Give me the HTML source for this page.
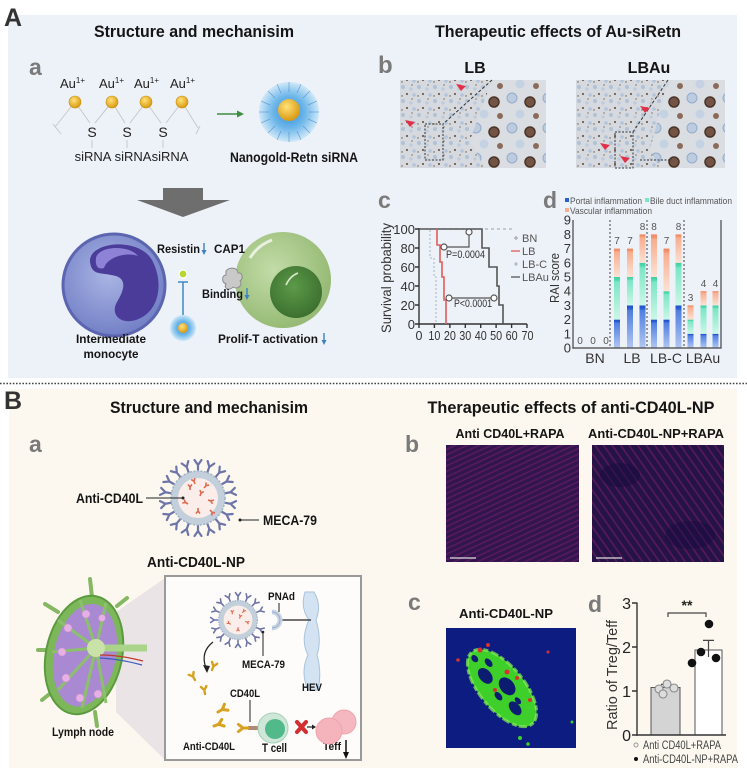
<!DOCTYPE html>
<html><head><meta charset="utf-8"><style>
html,body{margin:0;padding:0;background:#fff;}
svg{display:block;font-family:"Liberation Sans",sans-serif;}
</style></head><body>
<svg width="747" height="777" viewBox="0 0 747 777">
<defs>
 <radialGradient id="gold" cx="40%" cy="35%" r="65%"><stop offset="0" stop-color="#ffe27a"/><stop offset="1" stop-color="#d99a10"/></radialGradient>
 <radialGradient id="nano" cx="50%" cy="50%" r="50%"><stop offset="0" stop-color="#2f8fdc"/><stop offset=".55" stop-color="#6fb7ea"/><stop offset="1" stop-color="#cfe8f8"/></radialGradient>
 <radialGradient id="mono" cx="45%" cy="40%" r="60%"><stop offset="0" stop-color="#aab5e4"/><stop offset="1" stop-color="#7380c6"/></radialGradient>
 <radialGradient id="tcell" cx="40%" cy="40%" r="60%"><stop offset="0" stop-color="#c3dca8"/><stop offset="1" stop-color="#97bb76"/></radialGradient>
 <radialGradient id="tnuc" cx="45%" cy="40%" r="60%"><stop offset="0" stop-color="#5c9a48"/><stop offset="1" stop-color="#3d7030"/></radialGradient>
 <linearGradient id="gP" x1="0" y1="0" x2="0" y2="1"><stop offset="0" stop-color="#1f4fc8"/><stop offset=".08" stop-color="#2a5fd6"/><stop offset=".12" stop-color="#4f7ee0"/><stop offset="1" stop-color="#b2c8f2"/></linearGradient>
 <linearGradient id="gB" x1="0" y1="0" x2="0" y2="1"><stop offset="0" stop-color="#3fcf9e"/><stop offset=".08" stop-color="#55dbb0"/><stop offset=".12" stop-color="#7ce6c4"/><stop offset="1" stop-color="#cdf7e7"/></linearGradient>
 <linearGradient id="gV" x1="0" y1="0" x2="0" y2="1"><stop offset="0" stop-color="#ee8660"/><stop offset=".08" stop-color="#f4966f"/><stop offset=".12" stop-color="#f7ad8e"/><stop offset="1" stop-color="#fde2d4"/></linearGradient>
 <pattern id="hs" width="16" height="14" patternUnits="userSpaceOnUse">
  <rect width="16" height="14" fill="#d6dadf"/>
  <circle cx="3" cy="3" r="2" fill="#b0c2d9"/>
  <circle cx="11" cy="5" r="1.6" fill="#bccbdf"/>
  <circle cx="7" cy="10" r="1" fill="#5b4638"/>
  <circle cx="14" cy="11" r="1.8" fill="#b4c4da"/>
  <circle cx="2" cy="12" r="0.7" fill="#6e5646"/>
  <circle cx="12" cy="1" r="0.6" fill="#4e3d34"/>
 </pattern>
 <pattern id="hl" width="36" height="30" patternUnits="userSpaceOnUse">
  <rect width="36" height="30" fill="#dadee3"/>
  <circle cx="8" cy="8" r="5" fill="#bccbdf" stroke="#94accd" stroke-width="1"/>
  <circle cx="26" cy="12" r="5" fill="#735444" stroke="#4a3428" stroke-width="1.5"/>
  <circle cx="16" cy="24" r="4.5" fill="#c4d2e4"/>
  <circle cx="32" cy="26" r="3" fill="#8a6a58"/>
 </pattern>
 <pattern id="mag1" width="5" height="5" patternUnits="userSpaceOnUse" patternTransform="rotate(65)">
  <rect width="5" height="5" fill="#2f1650"/>
  <line x1="1" y1="0" x2="1" y2="5" stroke="#6e1f5e" stroke-width="1.4" opacity=".75"/>
 </pattern>
 <pattern id="mag2" width="7" height="7" patternUnits="userSpaceOnUse" patternTransform="rotate(-35)">
  <rect width="7" height="7" fill="#251246"/>
  <line x1="1" y1="0" x2="1" y2="7" stroke="#6e1f5e" stroke-width="1.6" opacity=".7"/>
 </pattern>
 <path id="ab" d="M0 0V-6M0 -6L-3.5 -11M0 -6L3.5 -11" stroke="#6d74a8" stroke-width="2.2" fill="none" stroke-linecap="round"/>
 <path id="gab" d="M0 0V-5M0 -5L-3.5 -9.5M0 -5L3.5 -9.5" stroke="#d6a21f" stroke-width="3" fill="none" stroke-linecap="round"/>
 <path id="rab" d="M0 0V-3M0 -3L-2 -5.5M0 -3L2 -5.5" stroke="#e0684f" stroke-width="1.6" fill="none"/>
</defs>

<rect width="747" height="777" fill="#fff"/>
<rect x="8" y="15" width="729" height="363" fill="#edf1f8"/>
<line x1="0" y1="383.5" x2="747" y2="383.5" stroke="#444" stroke-width="1.6" stroke-dasharray="1.6 1.6"/>
<rect x="9" y="389" width="728" height="379" fill="#fcf8ef"/>

<!-- ===== PANEL A LEFT ===== -->
<text x="4" y="26" font-size="25" font-weight="bold" fill="#333">A</text>
<text x="194" y="37" font-size="17" font-weight="bold" text-anchor="middle" textLength="200" lengthAdjust="spacingAndGlyphs" fill="#151515">Structure and mechanisim</text>
<text x="29" y="75" font-size="23" font-weight="bold" fill="#7a7a7a">a</text>

<g font-size="13" fill="#222">
 <text x="60" y="88">Au<tspan font-size="8" dy="-5">1+</tspan></text>
 <text x="99" y="88">Au<tspan font-size="8" dy="-5">1+</tspan></text>
 <text x="134" y="88">Au<tspan font-size="8" dy="-5">1+</tspan></text>
 <text x="170" y="88">Au<tspan font-size="8" dy="-5">1+</tspan></text>
</g>
<g stroke="#c9c9c9" stroke-width="1" fill="none">
 <path d="M55 127 L75 102 L90 123 M95 123 L112 102 L125 123 M130 123 L146 102 L161 123 M166 123 L182 102 L198 128"/>
 <path d="M53 124 L61 134 M196 134 L200 126"/>
 <path d="M92 140 V148 M127 140 V148 M163 140 V148"/>
</g>
<g fill="url(#gold)" stroke="#c99010" stroke-width=".6">
 <circle cx="75" cy="102" r="6"/><circle cx="112" cy="102" r="6"/><circle cx="146" cy="102" r="6"/><circle cx="182" cy="102" r="6"/>
</g>
<g font-size="14" fill="#222" text-anchor="middle">
 <text x="92" y="137">S</text><text x="127" y="137">S</text><text x="163" y="137">S</text>
</g>
<g font-size="13" fill="#222" text-anchor="middle">
 <text x="93" y="161">siRNA</text><text x="133" y="161">siRNA</text><text x="170" y="161">siRNA</text>
</g>
<line x1="217" y1="114" x2="238" y2="114" stroke="#3e8e41" stroke-width="1.5"/>
<polygon points="244,114 237,110.5 237,117.5" fill="#3e8e41"/>
<circle cx="289" cy="112" r="30" fill="url(#nano)"/>
<g stroke="#2a6fb8" stroke-width=".8" opacity=".5">
 <path d="M289 92V82M289 132V142M269 112H259M309 112H319M275 98L268 91M303 98L310 91M275 126L268 133M303 126L310 133M281 93L277 84M297 93L301 84M281 131L277 140M297 131L301 140M270 105L261 101M308 105L317 101M270 119L261 123M308 119L317 123"/>
</g>
<circle cx="289" cy="110" r="11" fill="url(#gold)"/>
<text x="294" y="162" font-size="13.5" font-weight="bold" text-anchor="middle" textLength="128" lengthAdjust="spacingAndGlyphs" fill="#151515">Nanogold-Retn siRNA</text>

<polygon points="163,188 203,188 203,200 230,200 183,217 137,200 163,200" fill="#6e6e6e"/>

<!-- monocyte -->
<circle cx="114" cy="285" r="51" fill="url(#mono)" stroke="#5c66b0" stroke-width="3"/>
<path d="M90 262 C88 242,138 236,152 260 C164 282,160 312,136 320 C120 325,110 314,117 302 C123 292,128 280,116 276 C100 272,92 276,90 262 Z" fill="#4b3c9a"/>
<path d="M96 258 C98 246,128 244,138 256 C128 252,108 256,104 268 C98 270,95 266,96 258 Z" fill="#8e82d6"/>
<!-- T cell -->
<circle cx="283" cy="280" r="48" fill="url(#tcell)"/>
<path d="M250 258 Q258 245 272 240" stroke="#f2f7ec" stroke-width="3" fill="none" opacity=".85"/>
<circle cx="296" cy="292" r="26" fill="url(#tnuc)"/>
<path d="M286 285 Q290 276 298 273" stroke="#dbe9d0" stroke-width="1.6" fill="none"/>
<!-- CAP1 receptor -->
<path d="M226 271 C230 266,238 268,238 273 C242 272,244 278,240 281 C243 285,238 290,233 287 C230 291,223 289,226 284 C221 282,222 275,226 275 Z" fill="#c9c9c9" stroke="#8a8a8a" stroke-width="1"/>
<!-- lollipop -->
<circle cx="183" cy="274" r="4" fill="#b7d634" stroke="#fff" stroke-width="1.2"/>
<line x1="178" y1="282" x2="188" y2="282" stroke="#3a8ac6" stroke-width="1.5"/>
<line x1="183" y1="282" x2="183" y2="316" stroke="#3a8ac6" stroke-width="1.5"/>
<circle cx="183" cy="328" r="13" fill="url(#nano)"/>
<circle cx="183" cy="328" r="5" fill="url(#gold)"/>
<g font-size="12" font-weight="bold" fill="#151515">
 <text x="157" y="253" textLength="43" lengthAdjust="spacingAndGlyphs">Resistin</text>
 <text x="214" y="253" textLength="31" lengthAdjust="spacingAndGlyphs">CAP1</text>
 <text x="202" y="298" textLength="41" lengthAdjust="spacingAndGlyphs">Binding</text>
 <text x="111" y="343" text-anchor="middle" textLength="70" lengthAdjust="spacingAndGlyphs">Intermediate</text>
 <text x="111" y="358" text-anchor="middle" textLength="55" lengthAdjust="spacingAndGlyphs">monocyte</text>
 <text x="218" y="343" textLength="100" lengthAdjust="spacingAndGlyphs">Prolif-T activation</text>
</g>
<g stroke="#3b82c4" stroke-width="1.4" fill="#3b82c4">
 <line x1="204" y1="243" x2="204" y2="251"/><polygon points="204,255 201.5,250 206.5,250" stroke="none"/>
 <line x1="247" y1="288" x2="247" y2="296"/><polygon points="247,300 244.5,295 249.5,295" stroke="none"/>
 <line x1="324" y1="333" x2="324" y2="341"/><polygon points="324,345 321.5,340 326.5,340" stroke="none"/>
</g>

<!-- ===== PANEL A RIGHT ===== -->
<text x="558" y="37" font-size="17" font-weight="bold" text-anchor="middle" textLength="246" lengthAdjust="spacingAndGlyphs" fill="#151515">Therapeutic effects of Au-siRetn</text>
<text x="378" y="73" font-size="24" font-weight="bold" fill="#7a7a7a">b</text>
<text x="475" y="73" font-size="16" font-weight="bold" text-anchor="middle" fill="#151515">LB</text>
<text x="649" y="73" font-size="16" font-weight="bold" text-anchor="middle" fill="#151515">LBAu</text>

<rect x="400" y="80" width="146" height="88" fill="url(#hs)"/>
<polygon points="492,80 546,80 546,168 484,168 470,140" fill="url(#hl)"/>
<line x1="492" y1="80" x2="443" y2="124" stroke="#333" stroke-width="1" stroke-dasharray="3 2"/>
<rect x="425" y="124" width="18" height="36" fill="none" stroke="#333" stroke-width="1" stroke-dasharray="2 1.5"/>
<g fill="#e0304a">
 <polygon points="461,91 456,84 466,86"/><polygon points="410,127 405,120 415,122"/>
</g>

<rect x="576" y="80" width="149" height="88" fill="url(#hs)"/>
<polygon points="668,80 725,80 725,168 660,168 650,150" fill="url(#hl)"/>
<line x1="668" y1="80" x2="633" y2="132" stroke="#333" stroke-width="1" stroke-dasharray="3 2"/>
<rect x="615" y="132" width="18" height="36" fill="none" stroke="#333" stroke-width="1" stroke-dasharray="2 1.5"/>
<line x1="640" y1="160" x2="672" y2="160" stroke="#333" stroke-width="1" stroke-dasharray="2 1.5"/>
<g fill="#e0304a">
 <polygon points="645,113 640,106 650,108"/><polygon points="605,150 600,143 610,145"/><polygon points="625,163 620,156 630,158"/>
</g>

<!-- chart c -->
<text x="378" y="208" font-size="23" font-weight="bold" fill="#7a7a7a">c</text>
<text x="543" y="208" font-size="23" font-weight="bold" fill="#7a7a7a">d</text>
<g stroke="#333" stroke-width="1.4" fill="none">
 <line x1="419" y1="228" x2="419" y2="324.7"/>
 <line x1="418.3" y1="324" x2="527" y2="324"/>
 <path d="M415 229H419M415 248H419M415 267H419M415 286H419M415 305H419M415 324H419"/>
 <path d="M419 324V328M434.4 324V328M449.9 324V328M465.3 324V328M480.7 324V328M496.1 324V328M511.6 324V328M527 324V328"/>
</g>
<g font-size="13" fill="#333" text-anchor="end">
 <text x="415" y="234">100</text><text x="415" y="253">80</text><text x="415" y="272">60</text>
 <text x="415" y="291">40</text><text x="415" y="310">20</text><text x="415" y="329">0</text>
</g>
<g font-size="12.5" fill="#333" text-anchor="middle">
 <text x="419" y="340">0</text>
 <text x="434.4" y="340" textLength="12" lengthAdjust="spacingAndGlyphs">10</text>
 <text x="449.9" y="340" textLength="12" lengthAdjust="spacingAndGlyphs">20</text>
 <text x="465.3" y="340" textLength="12" lengthAdjust="spacingAndGlyphs">30</text>
 <text x="480.7" y="340" textLength="12" lengthAdjust="spacingAndGlyphs">40</text>
 <text x="496.1" y="340" textLength="12" lengthAdjust="spacingAndGlyphs">50</text>
 <text x="511.6" y="340" textLength="12" lengthAdjust="spacingAndGlyphs">60</text>
 <text x="527.5" y="340" textLength="12" lengthAdjust="spacingAndGlyphs">70</text>
</g>
<text transform="translate(391,278) rotate(-90)" font-size="14" fill="#333" text-anchor="middle" textLength="110" lengthAdjust="spacingAndGlyphs">Survival probability</text>
<line x1="419" y1="229" x2="512" y2="229" stroke="#b0b0b0" stroke-width="1.2" stroke-dasharray="3 3"/>
<path d="M419 229 H430 V258 H434 V277 H436 V324" stroke="#a9bccd" stroke-width="1.1" fill="none" stroke-dasharray="2 2"/>
<path d="M419 229 H482 V248 H489 V267 H497 V286 H499 V305 H503 V324" stroke="#555" stroke-width="1.6" fill="none"/>
<path d="M437 229 V245 H440 V262 H442 V277 H444 V300 H446 V324" stroke="#e05c5c" stroke-width="1.6" fill="none"/>
<g stroke="#555" stroke-width="1.2" fill="none">
 <path d="M447 247 H469 V235"/>
 <line x1="452" y1="298" x2="491" y2="298"/>
</g>
<g stroke="#555" stroke-width="1.2" fill="#fff">
 <circle cx="444" cy="247" r="3"/><circle cx="469" cy="232" r="3"/>
 <circle cx="449" cy="298" r="3"/><circle cx="494" cy="298" r="3"/>
</g>
<text x="446" y="258" font-size="11" fill="#333" textLength="39" lengthAdjust="spacingAndGlyphs">P=0.0004</text>
<text x="454" y="307" font-size="11" fill="#333" textLength="38" lengthAdjust="spacingAndGlyphs">P&lt;0.0001</text>
<g font-size="11" fill="#555">
 <text x="522" y="242">BN</text><text x="522" y="255">LB</text><text x="522" y="268">LB-C</text><text x="522" y="281">LBAu</text>
</g>
<g stroke-width="1.3">
 <path d="M514 238H518M516 236V240" stroke="#aaa"/>
 <path d="M511 251H520" stroke="#e05c5c"/>
 <path d="M514 264H518M516 262V266" stroke="#a9bccd"/>
 <path d="M511 277H520" stroke="#555"/>
</g>

<!-- chart d -->
<rect x="565" y="198" width="4" height="4" fill="#2a5fd6"/>
<text x="570" y="204" font-size="9.5" fill="#555" textLength="72" lengthAdjust="spacingAndGlyphs">Portal inflammation</text>
<rect x="645" y="198" width="4" height="4" fill="#7ce6c4"/>
<text x="650" y="204" font-size="9.5" fill="#555" textLength="82" lengthAdjust="spacingAndGlyphs">Bile duct inflammation</text>
<rect x="565" y="208" width="4" height="4" fill="#f7ad8e"/>
<text x="570" y="214" font-size="9.5" fill="#555" textLength="82" lengthAdjust="spacingAndGlyphs">Vascular inflammation</text>
<g stroke="#444" stroke-width="1" stroke-dasharray="2 2">
 <line x1="610" y1="220" x2="610" y2="348"/><line x1="647" y1="220" x2="647" y2="348"/><line x1="684" y1="220" x2="684" y2="348"/>
</g>
<g>
 <rect x="614" y="319.6" width="6" height="28.4" fill="url(#gP)"/><rect x="614" y="277" width="6" height="42.6" fill="url(#gB)"/><rect x="614" y="248.6" width="6" height="28.4" fill="url(#gV)"/>
 <rect x="627" y="305.4" width="6" height="42.6" fill="url(#gP)"/><rect x="627" y="277" width="6" height="28.4" fill="url(#gB)"/><rect x="627" y="248.6" width="6" height="28.4" fill="url(#gV)"/>
 <rect x="639.5" y="305.4" width="6" height="42.6" fill="url(#gP)"/><rect x="639.5" y="262.8" width="6" height="42.6" fill="url(#gB)"/><rect x="639.5" y="234.4" width="6" height="28.4" fill="url(#gV)"/>
 <rect x="651" y="319.6" width="6" height="28.4" fill="url(#gP)"/><rect x="651" y="277" width="6" height="42.6" fill="url(#gB)"/><rect x="651" y="234.4" width="6" height="42.6" fill="url(#gV)"/>
 <rect x="663.5" y="319.6" width="6" height="28.4" fill="url(#gP)"/><rect x="663.5" y="291.2" width="6" height="28.4" fill="url(#gB)"/><rect x="663.5" y="248.6" width="6" height="42.6" fill="url(#gV)"/>
 <rect x="675.5" y="305.4" width="6" height="42.6" fill="url(#gP)"/><rect x="675.5" y="262.8" width="6" height="42.6" fill="url(#gB)"/><rect x="675.5" y="234.4" width="6" height="28.4" fill="url(#gV)"/>
 <rect x="687.5" y="333.8" width="6" height="14.2" fill="url(#gP)"/><rect x="687.5" y="319.6" width="6" height="14.2" fill="url(#gB)"/><rect x="687.5" y="305.4" width="6" height="14.2" fill="url(#gV)"/>
 <rect x="700.5" y="333.8" width="6" height="14.2" fill="url(#gP)"/><rect x="700.5" y="305.4" width="6" height="28.4" fill="url(#gB)"/><rect x="700.5" y="291.2" width="6" height="14.2" fill="url(#gV)"/>
 <rect x="712.5" y="333.8" width="6" height="14.2" fill="url(#gP)"/><rect x="712.5" y="305.4" width="6" height="28.4" fill="url(#gB)"/><rect x="712.5" y="291.2" width="6" height="14.2" fill="url(#gV)"/>
</g>
<g stroke="#444" stroke-width="1.2" fill="none">
 <line x1="573" y1="220" x2="573" y2="348.6"/>
 <line x1="572.4" y1="348" x2="721.6" y2="348"/>
 <line x1="721" y1="220" x2="721" y2="348"/>
</g>
<g font-size="13" fill="#333" text-anchor="end">
 <text x="571" y="352.5">0</text><text x="571" y="338.3">1</text><text x="571" y="324.1">2</text><text x="571" y="309.9">3</text><text x="571" y="295.7">4</text>
 <text x="571" y="281.5">5</text><text x="571" y="267.3">6</text><text x="571" y="253.1">7</text><text x="571" y="238.9">8</text><text x="571" y="224.7">9</text>
</g>
<g font-size="10" fill="#555" text-anchor="middle">
 <text x="580" y="344">0</text><text x="593" y="344">0</text><text x="606" y="344">0</text>
 <text x="617" y="244">7</text><text x="630" y="244">7</text><text x="642.5" y="230">8</text>
 <text x="654" y="230">8</text><text x="666.5" y="244">7</text><text x="678.5" y="230">8</text>
 <text x="690.5" y="301">3</text><text x="703.5" y="287">4</text><text x="715.5" y="287">4</text>
</g>
<text transform="translate(559,278) rotate(-90)" font-size="13" fill="#333" text-anchor="middle" textLength="50" lengthAdjust="spacingAndGlyphs">RAI score</text>
<g font-size="14" fill="#333" text-anchor="middle">
 <text x="595" y="363">BN</text><text x="632" y="363">LB</text><text x="666" y="363">LB-C</text><text x="703" y="363">LBAu</text>
</g>

<!-- ===== PANEL B LEFT ===== -->
<text x="4" y="409" font-size="25" font-weight="bold" fill="#333">B</text>
<text x="209" y="413" font-size="17" font-weight="bold" text-anchor="middle" textLength="198" lengthAdjust="spacingAndGlyphs" fill="#151515">Structure and mechanisim</text>
<text x="29" y="452" font-size="23" font-weight="bold" fill="#7a7a7a">a</text>

<!-- big NP -->
<g transform="translate(198,498)">
 <use href="#ab" transform="rotate(0) translate(0,-27)"/><use href="#ab" transform="rotate(20) translate(0,-27)"/><use href="#ab" transform="rotate(40) translate(0,-27)"/>
 <use href="#ab" transform="rotate(60) translate(0,-27)"/><use href="#ab" transform="rotate(80) translate(0,-27)"/><use href="#ab" transform="rotate(100) translate(0,-27)"/>
 <use href="#ab" transform="rotate(120) translate(0,-27)"/><use href="#ab" transform="rotate(140) translate(0,-27)"/><use href="#ab" transform="rotate(160) translate(0,-27)"/>
 <use href="#ab" transform="rotate(180) translate(0,-27)"/><use href="#ab" transform="rotate(200) translate(0,-27)"/><use href="#ab" transform="rotate(220) translate(0,-27)"/>
 <use href="#ab" transform="rotate(240) translate(0,-27)"/><use href="#ab" transform="rotate(260) translate(0,-27)"/><use href="#ab" transform="rotate(280) translate(0,-27)"/>
 <use href="#ab" transform="rotate(300) translate(0,-27)"/><use href="#ab" transform="rotate(320) translate(0,-27)"/><use href="#ab" transform="rotate(340) translate(0,-27)"/>
 <circle r="27" fill="#c3d0dc" stroke="#9fb3c6" stroke-width="1.5" stroke-dasharray="2 1.5"/>
 <circle r="20" fill="#fbeeea"/>
 <use href="#rab" transform="translate(-8,-8)"/><use href="#rab" transform="translate(6,-10) rotate(40)"/><use href="#rab" transform="translate(10,2) rotate(110)"/>
 <use href="#rab" transform="translate(-10,6) rotate(-60)"/><use href="#rab" transform="translate(0,10) rotate(180)"/><use href="#rab" transform="translate(2,-2) rotate(20)"/>
 <use href="#rab" transform="translate(-3,-14) rotate(-20)"/><use href="#rab" transform="translate(12,12) rotate(140)"/>
</g>
<line x1="146" y1="498" x2="183" y2="498" stroke="#222" stroke-width="1"/>
<circle cx="183" cy="498" r="1.5" fill="#222"/>
<line x1="240" y1="520" x2="259" y2="520" stroke="#222" stroke-width="1"/>
<circle cx="240" cy="520" r="1.5" fill="#222"/>
<g font-size="14" font-weight="bold" fill="#151515">
 <text x="76" y="503" textLength="67" lengthAdjust="spacingAndGlyphs">Anti-CD40L</text>
 <text x="263" y="525" textLength="54" lengthAdjust="spacingAndGlyphs">MECA-79</text>
 <text x="196" y="567" font-size="15" text-anchor="middle" textLength="98" lengthAdjust="spacingAndGlyphs">Anti-CD40L-NP</text>
</g>

<!-- funnel -->
<polygon points="116,612 165,578 165,760 116,712" fill="#e6dfe5" opacity=".8"/>
<!-- lymph node -->
<g stroke="#86b864" stroke-width="4" stroke-linecap="round" fill="none">
 <line x1="92" y1="597" x2="90" y2="579"/><line x1="58" y1="612" x2="45" y2="604"/>
 <line x1="47" y1="650" x2="38" y2="650"/><line x1="52" y1="692" x2="42" y2="700"/>
 <line x1="95" y1="712" x2="97" y2="726"/><line x1="117" y1="606" x2="127" y2="598"/>
</g>
<g transform="rotate(12 84 655)">
 <ellipse cx="84" cy="655" rx="38" ry="60" fill="#7cb85a" stroke="#5c9a3e" stroke-width="2"/>
 <ellipse cx="85" cy="655" rx="31" ry="52" fill="#a98ad2"/>
</g>
<g stroke="#8cc06c" stroke-width="3">
 <line x1="96" y1="648" x2="80" y2="600"/><line x1="96" y1="648" x2="58" y2="620"/><line x1="96" y1="648" x2="52" y2="652"/>
 <line x1="96" y1="648" x2="58" y2="690"/><line x1="96" y1="648" x2="82" y2="708"/><line x1="96" y1="648" x2="106" y2="703"/><line x1="96" y1="648" x2="106" y2="603"/>
</g>
<g fill="#e6b0e4" stroke="#c890d0" stroke-width=".6">
 <circle cx="86" cy="614" r="4"/><circle cx="68" cy="628" r="4"/><circle cx="62" cy="652" r="4"/>
 <circle cx="66" cy="678" r="4"/><circle cx="80" cy="698" r="4"/><circle cx="98" cy="694" r="4"/><circle cx="102" cy="618" r="3.5"/>
</g>
<path d="M96 648 L147 648" stroke="#a9d48a" stroke-width="7"/>
<circle cx="96" cy="648" r="9" fill="#c9e2a8"/>
<path d="M100 655 Q120 655 143 661" stroke="#c0392b" stroke-width="1.2" fill="none"/>
<path d="M100 658 Q120 659 142 665" stroke="#3a5bc0" stroke-width="1.2" fill="none"/>
<text x="83" y="736" font-size="12" font-weight="bold" text-anchor="middle" fill="#151515" textLength="62" lengthAdjust="spacingAndGlyphs">Lymph node</text>

<!-- box -->
<rect x="165" y="576" width="196" height="184" fill="#fdfcfa" stroke="#9a9a9a" stroke-width="2"/>
<g transform="translate(238,620) scale(.72)">
 <use href="#ab" transform="rotate(0) translate(0,-27)"/><use href="#ab" transform="rotate(22.5) translate(0,-27)"/><use href="#ab" transform="rotate(45) translate(0,-27)"/>
 <use href="#ab" transform="rotate(67.5) translate(0,-27)"/><use href="#ab" transform="rotate(112.5) translate(0,-27)"/>
 <use href="#ab" transform="rotate(135) translate(0,-27)"/><use href="#ab" transform="rotate(157.5) translate(0,-27)"/><use href="#ab" transform="rotate(180) translate(0,-27)"/>
 <use href="#ab" transform="rotate(202.5) translate(0,-27)"/><use href="#ab" transform="rotate(225) translate(0,-27)"/><use href="#ab" transform="rotate(247.5) translate(0,-27)"/>
 <use href="#ab" transform="rotate(270) translate(0,-27)"/><use href="#ab" transform="rotate(292.5) translate(0,-27)"/><use href="#ab" transform="rotate(315) translate(0,-27)"/><use href="#ab" transform="rotate(337.5) translate(0,-27)"/>
 <circle r="27" fill="#c3d0dc" stroke="#9fb3c6" stroke-width="1.5" stroke-dasharray="2 1.5"/>
 <circle r="20" fill="#fbeeea"/>
 <use href="#rab" transform="translate(-8,-8)"/><use href="#rab" transform="translate(6,-10) rotate(40)"/><use href="#rab" transform="translate(10,2) rotate(110)"/>
 <use href="#rab" transform="translate(-10,6) rotate(-60)"/><use href="#rab" transform="translate(0,10) rotate(180)"/><use href="#rab" transform="translate(2,-2) rotate(20)"/>
</g>
<path d="M305 592 Q300 608 309 620 Q300 640 308 655 Q300 672 308 690 L318 690 Q322 672 317 655 Q322 640 316 620 Q322 605 314 592 Z" fill="#d3e3f1" stroke="#a9c3dc" stroke-width="1"/>
<line x1="281" y1="620" x2="311" y2="620" stroke="#444" stroke-width="1.5"/>
<path d="M272 612 A8 8 0 0 1 272 628" stroke="#c9d6e6" stroke-width="5" fill="none"/>
<path d="M272 612 A8 8 0 0 1 272 628" stroke="#9aaec4" stroke-width="1" fill="none"/>
<line x1="279" y1="603" x2="279" y2="612" stroke="#222" stroke-width="1"/>
<line x1="263" y1="632" x2="263" y2="656" stroke="#222" stroke-width="1"/>
<circle cx="263" cy="632" r="1.3" fill="#222"/>
<path d="M213 642 Q200 652 206 668" stroke="#222" stroke-width="1.2" fill="none"/>
<polygon points="207,673 203,665 210,666" fill="#222"/>
<g font-size="11" font-weight="bold" fill="#151515">
 <text x="268" y="600" textLength="27" lengthAdjust="spacingAndGlyphs">PNAd</text>
 <text x="242" y="668" textLength="43" lengthAdjust="spacingAndGlyphs">MECA-79</text>
 <text x="302" y="691" textLength="20" lengthAdjust="spacingAndGlyphs">HEV</text>
 <text x="230" y="697" textLength="30" lengthAdjust="spacingAndGlyphs">CD40L</text>
 <text x="183" y="750" textLength="52" lengthAdjust="spacingAndGlyphs">Anti-CD40L</text>
 <text x="262" y="752" font-size="12" textLength="25" lengthAdjust="spacingAndGlyphs">T cell</text>
 <text x="323" y="750" textLength="18" lengthAdjust="spacingAndGlyphs">Teff</text>
</g>
<g>
 <use href="#gab" transform="translate(195,680) rotate(-30) scale(.8)"/>
 <use href="#gab" transform="translate(212,670) rotate(20) scale(.8)"/>
 <use href="#gab" transform="translate(205,694) rotate(-10) scale(.8)"/>
 <use href="#gab" transform="translate(218,712) rotate(60)"/>
 <use href="#gab" transform="translate(214,726) rotate(70)"/>
</g>
<line x1="250" y1="700" x2="250" y2="722" stroke="#222" stroke-width="1"/>
<line x1="248" y1="728" x2="260" y2="728" stroke="#b08a70" stroke-width="4"/>
<use href="#gab" transform="translate(248,728) rotate(-90)"/>
<circle cx="273" cy="728" r="15" fill="#cfe7d8" stroke="#a4d0b6" stroke-width="1"/>
<circle cx="275" cy="729" r="10" fill="#52b98a"/>
<g stroke="#d23030" stroke-width="4" stroke-linecap="round">
 <line x1="297" y1="722" x2="306" y2="732"/><line x1="306" y1="722" x2="297" y2="732"/>
</g>
<line x1="307" y1="727" x2="313" y2="727" stroke="#222" stroke-width="1.2"/>
<polygon points="316,727 312,724.5 312,729.5" fill="#222"/>
<circle cx="344" cy="722" r="12" fill="#f5b8c0" stroke="#efa3ae" stroke-width="1"/>
<circle cx="329" cy="731" r="13" fill="#f5b3bb" stroke="#efa3ae" stroke-width="1"/>
<line x1="346" y1="740" x2="346" y2="754" stroke="#111" stroke-width="1.5"/>
<polygon points="346,759 343,752 349,752" fill="#111"/>

<!-- ===== PANEL B RIGHT ===== -->
<text x="571" y="413" font-size="17" font-weight="bold" text-anchor="middle" textLength="287" lengthAdjust="spacingAndGlyphs" fill="#151515">Therapeutic effects of anti-CD40L-NP</text>
<text x="405" y="452" font-size="23" font-weight="bold" fill="#7a7a7a">b</text>
<text x="510" y="438" font-size="12.5" font-weight="bold" text-anchor="middle" textLength="109" lengthAdjust="spacingAndGlyphs" fill="#151515">Anti CD40L+RAPA</text>
<text x="656" y="438" font-size="12.5" font-weight="bold" text-anchor="middle" textLength="136" lengthAdjust="spacingAndGlyphs" fill="#151515">Anti-CD40L-NP+RAPA</text>
<rect x="446" y="445" width="133" height="117" fill="url(#mag1)"/>
<rect x="446" y="445" width="133" height="117" fill="#4a1050" opacity=".12"/>
<rect x="592" y="445" width="132" height="117" fill="url(#mag2)"/>
<ellipse cx="620" cy="475" rx="20" ry="12" fill="#150a40" opacity=".5"/>
<ellipse cx="690" cy="535" rx="25" ry="14" fill="#150a40" opacity=".4"/>
<line x1="450" y1="558" x2="476" y2="558" stroke="#ddd" stroke-width="1.2"/>
<line x1="596" y1="558" x2="622" y2="558" stroke="#ddd" stroke-width="1.2"/>

<text x="408" y="610" font-size="23" font-weight="bold" fill="#7a7a7a">c</text>
<text x="506" y="618" font-size="13" font-weight="bold" text-anchor="middle" textLength="94" lengthAdjust="spacingAndGlyphs" fill="#151515">Anti-CD40L-NP</text>
<rect x="446" y="628" width="130" height="120" fill="#0c1c80"/>
<g transform="rotate(-40 502 688)">
 <ellipse cx="502" cy="688" rx="22" ry="47" fill="#3fcf2a"/>
 <ellipse cx="502" cy="688" rx="22" ry="47" fill="none" stroke="#8cf05a" stroke-width="3" stroke-dasharray="5 3 8 2" opacity=".7"/>
 <ellipse cx="497" cy="668" rx="6" ry="9" fill="#0c1c70"/>
 <ellipse cx="507" cy="690" rx="7" ry="10" fill="#0c1c70"/>
 <ellipse cx="499" cy="712" rx="5" ry="8" fill="#0c1c70"/>
 <ellipse cx="508" cy="660" rx="3" ry="5" fill="#0c1c70"/>
 <ellipse cx="494" cy="692" rx="3" ry="5" fill="#0c1c70"/>
 <ellipse cx="506" cy="708" rx="2.5" ry="4" fill="#0c1c70"/>
 <ellipse cx="500" cy="648" rx="3" ry="4" fill="#0c1c70"/>
</g>
<g fill="#d83030">
 <circle cx="480" cy="650" r="2.5"/><circle cx="488" cy="645" r="2"/><circle cx="507" cy="672" r="2.5"/><circle cx="517" cy="678" r="2"/>
 <circle cx="458" cy="660" r="1.8"/><circle cx="530" cy="700" r="2"/><circle cx="495" cy="690" r="2"/><circle cx="548" cy="652" r="1.5"/>
</g>
<g fill="#3fcf2a"><circle cx="520" cy="738" r="2"/><circle cx="528" cy="744" r="1.8"/><circle cx="572" cy="722" r="1.5"/></g>

<text x="588" y="612" font-size="23" font-weight="bold" fill="#7a7a7a">d</text>
<rect x="651" y="687.5" width="29" height="47.5" fill="#d4d4d4" stroke="#555" stroke-width="1"/>
<rect x="695" y="650" width="27" height="85" fill="#fff" stroke="#555" stroke-width="1"/>
<g stroke="#444" stroke-width="1.2" fill="none">
 <path d="M708.5 650 V640.4 M703 640.4 H714"/>
 <path d="M708.5 650 V657"/>
 <path d="M665.5 687.5 V684.4 M661 684.4 H670"/>
 <path d="M668 617 V613 H706 V617"/>
</g>
<text x="687" y="610" font-size="14" font-weight="bold" text-anchor="middle" fill="#222">**</text>
<g fill="#ddd" stroke="#8a8a8a" stroke-width="1.1">
 <circle cx="659" cy="689" r="4"/><circle cx="667" cy="684" r="4"/><circle cx="674" cy="688" r="4"/><circle cx="663" cy="694" r="4"/>
</g>
<g fill="#111">
 <circle cx="709" cy="624" r="4.3"/><circle cx="701" cy="652" r="4.3"/><circle cx="692" cy="663" r="4.3"/><circle cx="716" cy="658" r="4.3"/>
</g>
<g stroke="#333" stroke-width="1.4" fill="none">
 <line x1="637" y1="602.5" x2="637" y2="735.7"/>
 <line x1="636.3" y1="735" x2="726" y2="735"/>
 <path d="M632 603H637M632 647H637M632 691H637M632 735H637"/>
</g>
<g font-size="16" fill="#222" text-anchor="end">
 <text x="631" y="609">3</text><text x="631" y="653">2</text><text x="631" y="697">1</text><text x="631" y="741">0</text>
</g>
<text transform="translate(617,675) rotate(-90)" font-size="15" fill="#333" text-anchor="middle" textLength="110" lengthAdjust="spacingAndGlyphs">Ratio of Treg/Teff</text>
<circle cx="636" cy="745" r="2" fill="none" stroke="#999" stroke-width="1"/>
<circle cx="636" cy="759" r="2" fill="#111"/>
<text x="643" y="749" font-size="11.5" fill="#444" textLength="78" lengthAdjust="spacingAndGlyphs">Anti CD40L+RAPA</text>
<text x="643" y="763" font-size="11.5" fill="#444" textLength="95" lengthAdjust="spacingAndGlyphs">Anti-CD40L-NP+RAPA</text>
</svg>
</body></html>
